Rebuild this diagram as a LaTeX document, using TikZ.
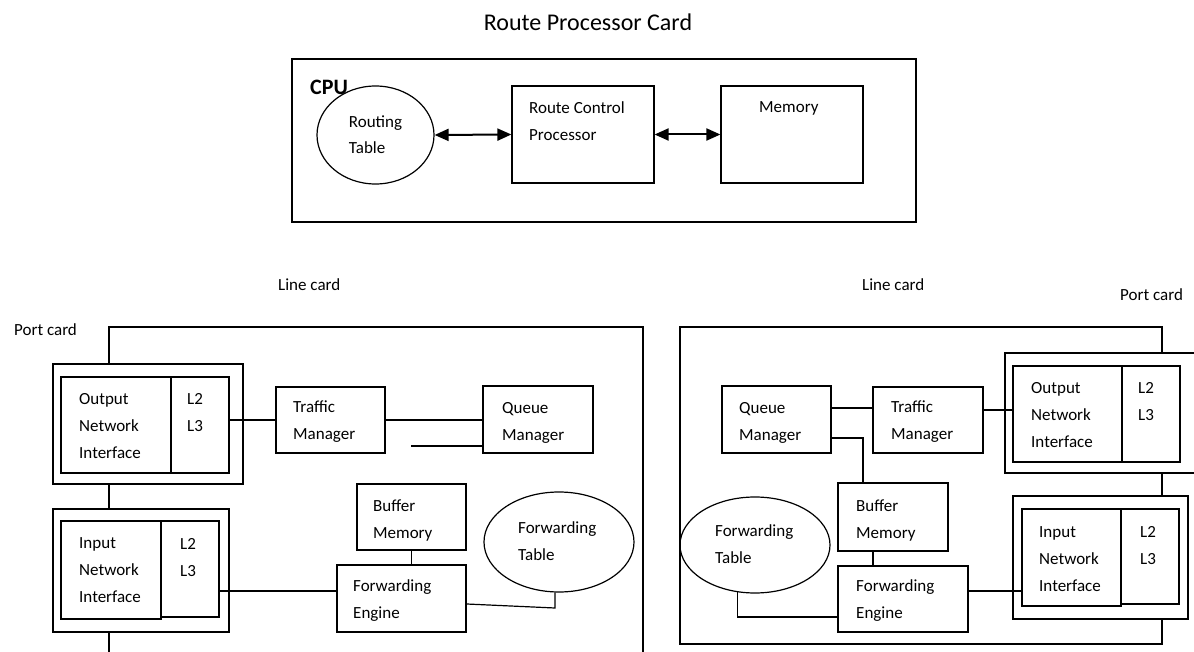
\documentclass[tikz,border=0pt]{standalone}
\usepackage{fontspec}
\setmainfont{Carlito}
\usetikzlibrary{shapes.geometric,arrows.meta}
\begin{document}
\begin{tikzpicture}[x=1pt,y=-1pt,
  box/.style={draw,line width=1.2pt,inner sep=0pt,rectangle},
  oval/.style={draw,line width=1.2pt,inner sep=0pt,ellipse,align=left,font=\fontsize{17}{26}\selectfont},
  wh/.style 2 args={minimum width=#1pt,minimum height=#2pt},
  lbl/.style={inner sep=0pt,anchor=west,align=left,font=\fontsize{17}{27}\selectfont},
  wire/.style={line width=1.2pt},
  biarrow/.style={line width=2pt,{Triangle[length=14pt,width=12pt]}-{Triangle[length=14pt,width=12pt]}},
]
\useasboundingbox[fill=white] (0,0) rectangle (1194,652);

% ---------------- Route processor card ----------------
\node[inner sep=0pt,font=\fontsize{24}{28}\selectfont] (title) at (588,22) {Route Processor Card};
\node[box,wh={624}{163}] (cpu) at (604,140.5) {};
\node[inner sep=0pt,anchor=west,font=\bfseries\fontsize{22}{26}\selectfont] (cpul) at (310,87) {CPU};
\node[oval,wh={117}{98}] (rt) at (375.5,135) {Routing\\Table};
\node[box,wh={142}{97}] (rcp) at (583,134.5) {};
\node[lbl] (rcpt) at (529,121) {Route Control\\Processor};
\node[box,wh={142}{97}] (mem) at (792,134.5) {};
\node[lbl] (memt) at (759,108) {Memory};
\draw[biarrow] (rt.east) -- (rcp.west);
\draw[biarrow] (rcp.east) -- (mem.west);

% ---------------- labels ----------------
\node[lbl] (lcl1) at (278,285) {Line card};
\node[lbl] (lcl2) at (862,285) {Line card};
\node[lbl] (pcl1) at (14,330) {Port card};
\node[lbl] (pcl2) at (1120,295) {Port card};

% ---------------- left line card ----------------
\node[box,wh={190}{120}] (pcoL) at (148,424) {};
\node[box,wh={110}{96}] (oniLa) at (116,425) {};
\node[box,wh={58}{96}] (oniLb) at (200,425) {};
\node[lbl] (oniLt) at (79,426) {Output\\Network\\Interface};
\node[lbl] (oniLl) at (187,413) {L2\\L3};

\node[box,wh={176}{123}] (pciL) at (141,570.5) {};
\node[box,wh={100}{98}] (iniLa) at (111,570) {};
\node[box,wh={58}{96}] (iniLb) at (190,569) {};
\node[lbl] (iniLt) at (79,570.5) {Input\\Network\\Interface};
\node[lbl] (iniLl) at (180,557.5) {L2\\L3};

\node[box,wh={109}{66}] (tmL) at (330.5,420) {};
\node[lbl] (tmLt) at (293,422) {Traffic\\Manager};
\node[box,wh={110}{67}] (qmL) at (538,419.5) {};
\node[lbl] (qmLt) at (502,422.5) {Queue\\Manager};
\node[box,wh={109}{66}] (bmL) at (411.5,517) {};
\node[lbl] (bmLt) at (373,520) {Buffer\\Memory};
\node[box,wh={129}{67}] (feL) at (401.5,598.5) {};
\node[lbl] (feLt) at (353,601) {Forwarding\\Engine};
\node[oval,wh={150}{100}] (ftL) at (559,542) {};
\node[lbl] (ftLt) at (518,541) {Forwarding\\Table};

\coordinate (lcLa) at (109,327);
\coordinate (lcLb) at (643,327);
\coordinate (lcLc) at (643,660);
\coordinate (lcLd) at (109,660);
\draw[wire] (lcLa |- pcoL.north) -- (lcLa) -- (lcLb) -- (lcLc);
\draw[wire] (lcLa |- pcoL.south) -- (lcLa |- pciL.north);
\draw[wire] (lcLa |- pciL.south) -- (lcLd);

\draw[wire] (tmL.west -| oniLb.east) -- (tmL.west);
\draw[wire] (tmL.east) -- (tmL.east -| qmL.west);
\coordinate (dang) at (411,446);
\draw[wire] (dang) -- (dang -| qmL.west);
\draw[wire] (bmL.south) -- (bmL.south |- feL.north);
\coordinate (feLin) at ([yshift=7.5pt]feL.west);
\draw[wire] (feLin -| iniLb.east) -- (feLin);
\coordinate (feLout) at ([yshift=-5.5pt]feL.east);
\coordinate (ftLk) at (555,608);
\draw[wire] (feLout) -- (ftLk) -- (ftLk |- ftL.south);

% ---------------- right line card ----------------
\node[box,wh={109}{67}] (qmR) at (776.5,419.5) {};
\node[lbl] (qmRt) at (739,422.5) {Queue\\Manager};
\node[box,wh={110}{66}] (tmR) at (928,420) {};
\node[lbl] (tmRt) at (891,422) {Traffic\\Manager};
\node[box,wh={110}{68}] (bmR) at (893,517) {};
\node[lbl] (bmRt) at (856,520) {Buffer\\Memory};
\node[box,wh={130}{66}] (feR) at (903,599) {};
\node[lbl] (feRt) at (856,601) {Forwarding\\Engine};
\node[oval,wh={150}{96}] (ftR) at (755,545) {};
\node[lbl] (ftRt) at (715,544) {Forwarding\\Table};

\node[box,wh={195}{120}] (pcoR) at (1102.5,413) {};
\node[box,wh={109}{96}] (oniRa) at (1067.5,414) {};
\node[box,wh={58}{96}] (oniRb) at (1151,414) {};
\node[lbl] (oniRt) at (1031,415.5) {Output\\Network\\Interface};
\node[lbl] (oniRl) at (1138,402) {L2\\L3};

\node[box,wh={175}{123}] (pciR) at (1100.5,557.5) {};
\node[box,wh={99}{97}] (iniRa) at (1071.5,557.5) {};
\node[box,wh={58}{95}] (iniRb) at (1150,556.5) {};
\node[lbl] (iniRt) at (1039,559) {Input\\Network\\Interface};
\node[lbl] (iniRl) at (1140,545.5) {L2\\L3};

\coordinate (lcRa) at (1162,327);
\coordinate (lcRb) at (680,327);
\coordinate (lcRc) at (680,644);
\coordinate (lcRd) at (1162,644);
\draw[wire] (lcRa |- pcoR.north) -- (lcRa) -- (lcRb) -- (lcRc) -- (lcRd) -- (lcRd |- pciR.south);
\draw[wire] (lcRa |- pcoR.south) -- (lcRa |- pciR.north);

\coordinate (qmRo) at ([yshift=11.5pt]qmR.east);
\draw[wire] (qmRo) -- (qmRo -| tmR.west);
\coordinate (qmRb) at ([yshift=-18.5pt]qmR.east);
\coordinate (bmRtop) at ([xshift=-30pt]bmR.north);
\draw[wire] (qmRb) -| (bmRtop);
\coordinate (bmRbot) at ([xshift=-20pt]bmR.south);
\draw[wire] (bmRbot) -- (bmRbot |- feR.north);
\coordinate (feRin) at ([yshift=-18pt]feR.west);
\draw[wire] (ftR.250) |- (feRin);
\coordinate (feRo) at ([yshift=8pt]feR.east);
\draw[wire] (feRo) -- (feRo -| iniRa.west);
\coordinate (tmRo) at ([yshift=10pt]tmR.east);
\draw[wire] (tmRo) -- (tmRo -| oniRa.west);
\end{tikzpicture}
\end{document}
